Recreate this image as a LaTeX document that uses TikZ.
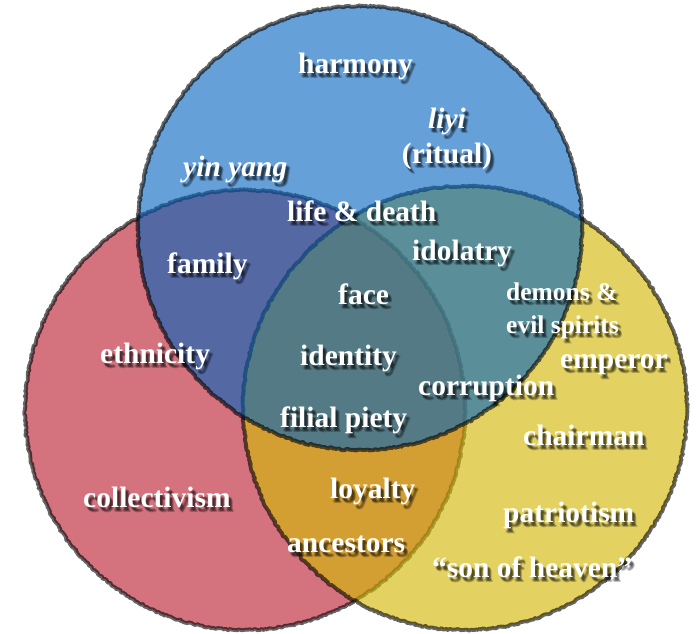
\documentclass[tikz,border=0pt]{standalone}
\usepackage{fontspec}
\setmainfont{Liberation Serif}
\usetikzlibrary{decorations.pathmorphing}
\definecolor{redfill}{RGB}{212,114,126}
\definecolor{yelfill}{RGB}{211,184,7}
\definecolor{bluefill}{RGB}{0,98,190}
\tikzset{
  setcircle/.style={decorate, decoration={random steps, segment length=1.5pt, amplitude=0.9pt},
    draw=black, draw opacity=0.6, line width=3.8pt, line join=round},
  labeltxt/.style={text=white, inner sep=0pt, anchor=base west,
    font=\fontsize{29.5}{34}\selectfont\bfseries},
  shadowtxt/.style={labeltxt, text=black, text opacity=0.13},
  smalltxt/.style={font=\fontsize{25.5}{30}\selectfont\bfseries},
  itl/.style={font=\fontsize{29.5}{34}\selectfont\bfseries\itshape},
  ctr/.style={anchor=base},
}
\newcommand\lbl[4][]{%
  \foreach \dx/\dy [count=\i] in {2/3,3/4,4/5,3/3,2/4,4/4,3/5}{%
    \node[shadowtxt,#1] (#2-sh\i) at ([shift={(\dx,\dy)}]#3) {#4};}%
  \node[labeltxt,#1] (#2) at (#3) {#4};}
\begin{document}
\begin{tikzpicture}[x=1pt,y=-1pt]
\fill[white] (0,0) rectangle (698,633);
\useasboundingbox (0,0) rectangle (698,633);
\path[setcircle, fill=redfill] (245,410) circle (220);
\path[setcircle, fill=yelfill, fill opacity=0.63] (465,408) circle (222);
\path[setcircle, fill=bluefill, fill opacity=0.6] (360,228) circle (222);
\lbl{harmony}{298,73}{harmony}
\lbl[ctr,itl]{liyi}{447,128}{liyi}
\lbl[ctr]{ritual}{447,163}{(ritual)}
\lbl[itl]{yinyang}{183,176}{yin yang}
\lbl{lifedeath}{287,221}{life \& death}
\lbl{family}{167,273}{family}
\lbl{idolatry}{412,260}{idolatry}
\lbl{face}{338,304}{face}
\lbl[smalltxt]{demons}{506,300}{demons \&}
\lbl[smalltxt]{evil}{506,333}{evil spirits}
\lbl{ethnicity}{100,363}{ethnicity}
\lbl{identity}{300,365}{identity}
\lbl{emperor}{560,368}{emperor}
\lbl{corruption}{418,395}{corruption}
\lbl{filial}{280,427}{filial piety}
\lbl{chairman}{523,445}{chairman}
\lbl{loyalty}{330,498}{loyalty}
\lbl{collectivism}{83,507}{collectivism}
\lbl{patriotism}{503,522}{patriotism}
\lbl{ancestors}{287,552}{ancestors}
\lbl{sonofheaven}{432,577}{“son of heaven”}
\end{tikzpicture}
\end{document}
